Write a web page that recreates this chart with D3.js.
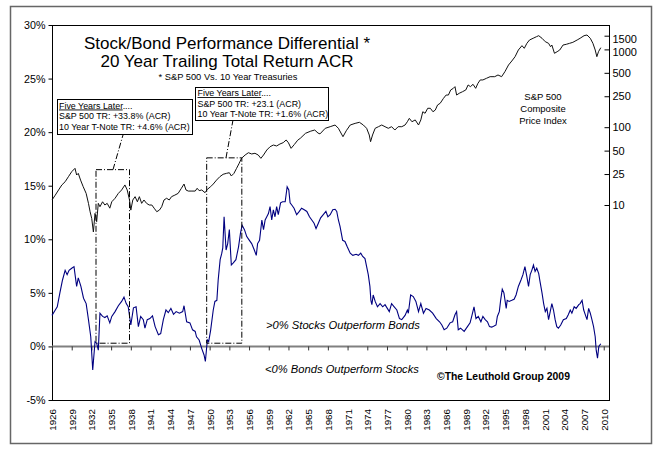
<!DOCTYPE html>
<html>
<head>
<meta charset="utf-8">
<script src="https://cdn.jsdelivr.net/npm/d3@7"></script>
<style>
  html, body { margin: 0; padding: 0; background: #fff; }
  svg { display: block; font-family: "Liberation Sans", Arial, sans-serif; }
</style>
</head>
<body>
<svg id="chart" width="660" height="454"></svg>
<script>
// ---------------- DATA ----------------
const pctTicks = [-5, 0, 5, 10, 15, 20, 25, 30];
const priceTicks = [10, 25, 50, 100, 250, 500, 1000, 1500];
const yearTicks = d3.range(1926, 2011, 3);

// Stock/Bond 20-yr trailing ACR differential (%)
const diffYears = [1926.0,1926.5,1926.8,1927.2,1927.6,1928.0,1928.3,1928.6,1929.0,1929.35,1929.75,1930.0,1930.4,1930.8,1931.2,1931.55,1931.9,1932.2,1932.55,1932.8,1933.05,1933.3,1933.7,1934.05,1934.4,1934.8,1935.1,1935.6,1936.1,1936.6,1936.96,1937.3,1937.6,1938.0,1938.4,1938.8,1939.15,1939.5,1939.9,1940.15,1940.5,1940.9,1941.3,1941.7,1942.2,1942.55,1942.95,1943.35,1943.7,1944.1,1944.5,1944.9,1945.4,1945.9,1946.1,1946.5,1947.0,1947.4,1947.8,1948.0,1948.4,1948.8,1949.15,1949.35,1949.65,1949.85,1950.15,1950.55,1950.8,1951.1,1951.3,1951.6,1951.85,1952.0,1952.2,1952.5,1952.75,1953.0,1953.3,1953.6,1954.0,1954.4,1954.7,1954.95,1955.3,1955.65,1956.05,1956.4,1956.8,1957.1,1957.3,1957.6,1957.95,1958.2,1958.45,1958.7,1958.95,1959.2,1959.45,1959.7,1959.95,1960.2,1960.45,1960.8,1961.1,1961.5,1961.8,1962.05,1962.25,1962.5,1962.85,1963.25,1963.65,1964.0,1964.4,1964.8,1965.2,1965.55,1965.9,1966.2,1966.55,1966.9,1967.3,1967.7,1968.0,1968.35,1968.75,1969.1,1969.35,1969.6,1969.85,1970.25,1970.6,1970.95,1971.4,1971.8,1972.3,1972.65,1973.0,1973.3,1973.65,1973.9,1974.15,1974.4,1974.55,1974.7,1974.9,1975.2,1975.55,1975.95,1976.35,1976.7,1977.05,1977.35,1977.7,1978.1,1978.5,1978.9,1979.25,1979.75,1980.1,1980.25,1980.6,1981.0,1981.4,1981.8,1982.15,1982.55,1982.95,1983.45,1983.95,1984.5,1985.0,1985.35,1985.7,1986.1,1986.6,1987.0,1987.35,1987.6,1987.85,1988.2,1988.75,1989.25,1989.65,1989.9,1990.25,1990.55,1990.9,1991.3,1991.6,1991.95,1992.3,1992.6,1992.95,1993.3,1993.6,1993.8,1994.1,1994.3,1994.55,1994.8,1995.15,1995.3,1995.6,1996.0,1996.35,1996.65,1997.0,1997.4,1997.7,1998.0,1998.3,1998.55,1998.8,1999.05,1999.3,1999.55,1999.8,2000.1,2000.3,2000.6,2000.85,2001.1,2001.35,2001.6,2001.85,2002.1,2002.35,2002.6,2002.85,2003.1,2003.45,2003.85,2004.3,2004.6,2004.9,2005.15,2005.5,2005.8,2006.2,2006.4,2006.7,2006.95,2007.2,2007.45,2007.7,2007.95,2008.2,2008.45,2008.7,2008.85,2009.05,2009.25,2009.55];
const diffValues = [2.9,3.4,3.7,5.0,6.2,7.1,6.7,7.1,7.3,7.45,5.6,6.4,5.6,4.5,4.0,2.5,0.9,-2.2,0.45,0.3,-0.35,3.1,2.8,2.7,2.85,2.2,2.8,3.25,3.8,4.2,4.6,4.0,3.7,2.0,3.6,3.7,1.85,2.8,2.5,1.7,2.5,2.6,2.85,1.85,1.1,1.2,2.5,3.4,3.15,3.55,3.0,3.25,3.1,3.25,3.8,2.3,2.2,1.55,1.4,0.9,0.6,-0.2,-0.8,-1.4,0.6,0.45,1.5,3.4,4.2,4.3,6.2,8.1,8.7,9.2,12.1,9.0,9.6,10.9,7.6,7.8,8.1,9.3,10.6,11.3,10.9,10.25,9.9,9.6,9.0,8.5,9.6,9.9,11.8,10.9,11.8,12.1,12.4,13.05,11.8,12.75,12.1,13.05,12.3,13.4,13.5,13.5,14.9,14.6,13.4,13.2,12.9,12.3,12.6,12.9,12.75,12.6,12.1,11.8,11.5,11.0,11.5,12.0,12.3,12.6,12.1,12.3,12.75,12.8,12.6,11.8,11.2,9.9,9.8,9.3,8.7,8.5,8.6,8.5,8.7,8.4,8.2,7.45,6.7,5.6,4.3,3.9,4.8,4.2,3.7,4.0,3.7,3.9,3.55,3.25,4.0,3.7,3.4,2.6,2.5,2.9,3.4,3.1,4.8,4.65,4.2,3.25,4.0,3.1,3.55,3.4,3.1,2.6,2.3,2.0,1.55,1.7,2.2,2.3,2.95,3.25,1.55,1.7,1.4,1.85,2.2,2.8,3.7,2.6,2.8,2.3,2.8,2.5,2.3,1.85,1.8,1.9,2.0,2.8,3.25,4.3,5.35,5.0,3.55,4.3,4.2,4.3,4.4,4.8,5.6,6.2,6.7,7.45,6.5,5.6,6.7,7.1,7.6,7.0,7.3,6.8,6.05,5.0,4.0,3.25,3.55,2.5,3.25,4.0,3.4,2.5,1.85,1.7,2.0,2.5,2.6,2.95,3.4,3.1,3.7,3.55,3.9,4.0,4.3,3.4,2.95,2.5,3.55,3.1,2.5,1.85,0.9,-0.35,-1.1,0.0,0.25];

// S&P 500 Composite Price Index
const spxYears = [1926.0,1926.5,1927.0,1927.5,1928.0,1928.5,1929.0,1929.5,1929.75,1930.0,1930.35,1930.75,1931.2,1931.55,1931.8,1932.05,1932.3,1932.55,1932.8,1933.05,1933.3,1933.7,1934.05,1934.4,1934.8,1935.1,1935.6,1936.1,1936.6,1937.1,1937.45,1937.8,1938.0,1938.3,1938.65,1939.0,1939.3,1939.65,1940.0,1940.4,1940.8,1941.2,1941.55,1941.95,1942.35,1942.7,1943.05,1943.45,1943.85,1944.2,1944.7,1945.2,1945.7,1946.1,1946.4,1946.75,1947.3,1947.8,1948.1,1948.4,1948.8,1949.3,1949.65,1950.15,1950.55,1951.05,1951.55,1952.05,1952.55,1953.0,1953.3,1953.7,1954.1,1954.5,1954.85,1955.4,1955.9,1956.4,1956.9,1957.4,1957.8,1958.2,1958.7,1959.2,1959.7,1960.2,1960.7,1961.2,1961.65,1962.0,1962.4,1962.9,1963.4,1963.8,1964.6,1965.4,1966.0,1966.5,1966.8,1967.6,1968.35,1969.1,1969.6,1970.3,1970.8,1971.4,1972.15,1972.8,1973.4,1973.9,1974.3,1974.5,1974.8,1975.2,1975.7,1976.2,1976.7,1977.2,1977.7,1978.2,1978.7,1979.25,1979.75,1980.1,1980.4,1980.8,1981.3,1981.8,1982.15,1982.45,1982.8,1983.2,1983.6,1984.0,1984.35,1984.7,1985.1,1985.6,1986.0,1986.35,1986.7,1987.1,1987.35,1987.6,1988.0,1988.5,1989.0,1989.35,1989.7,1990.1,1990.5,1990.85,1991.2,1991.6,1992.15,1992.7,1993.4,1993.9,1994.45,1994.95,1995.5,1996.0,1996.5,1997.0,1997.55,1997.9,1998.3,1998.7,1999.25,1999.75,2000.1,2000.6,2001.1,2001.6,2001.9,2002.1,2002.5,2002.9,2003.3,2003.8,2004.3,2004.8,2005.3,2005.95,2006.4,2007.0,2007.45,2007.95,2008.35,2008.7,2008.95,2009.2,2009.55];
const spxValues = [11.6,13.4,15.6,18.1,19.9,23.1,26.8,29.6,24.3,25.5,20.9,17.2,14.1,10.5,8.2,6.7,4.5,7.8,6.1,10.5,9.5,11.0,10.0,10.5,9.1,11.0,12.2,14.1,15.6,18.1,15.6,11.6,8.6,11.6,12.8,11.0,12.8,10.5,11.6,10.5,10.0,10.0,9.1,8.2,8.6,9.5,11.6,12.2,11.6,12.8,13.4,14.1,16.4,18.6,15.6,15.1,15.1,15.1,16.4,15.3,15.6,14.4,15.9,17.2,18.6,20.9,23.1,24.8,25.5,26,23.6,25.5,29.6,34.4,39.8,43.9,47,45.3,46.2,43.9,39.8,43.9,50.9,56.1,59,57.4,60.8,63.3,68.5,63,53.5,60,68,72,83.5,89,92,84,82,96.8,101.5,106.7,96.8,75.5,90,106.7,112,115.6,106.7,96.8,79.4,65.1,79.4,96.8,101.5,106.7,101.5,96.8,101.5,92,101.5,101.5,106.7,117.6,130,117.6,124,106.7,124,158,151,175,175,158,166,193,203,235,259,259,301,316,332,259,273,286,301,349,332,356,316,367,405,405,425,446,446,469,446,517,630,709,806,982,1117,1033,1197,1321,1390,1456,1500,1390,1256,1197,1083,1138,891,934,982,1138,1163,1197,1233,1321,1390,1500,1532,1390,1197,982,806,934,1052];

// ---------------- CHART ----------------
const svg = d3.select("#chart");
const L = 52, R = 609, T = 25, B = 400;

const x = d3.scaleLinear().domain([1926, 2010.8]).range([L, R]);
const y = d3.scaleLinear().domain([-5, 30]).range([B, T]);
const yR = d3.scaleLog().domain([1, 10000]).range([282.8, -28.4]);

// outer frame
svg.append("rect").attr("x", 10.5).attr("y", 6.5).attr("width", 641).attr("height", 437)
  .attr("fill", "none").attr("stroke", "#666").attr("stroke-width", 1.5);

// plot border
svg.append("rect").attr("x", L + 0.5).attr("y", T + 0.5).attr("width", R - L).attr("height", B - T)
  .attr("fill", "none").attr("stroke", "#000").attr("stroke-width", 1);

// left axis
const gL = svg.append("g").attr("transform", `translate(${L + 0.5},0)`)
  .call(d3.axisLeft(y).tickValues(pctTicks).tickFormat(d => d + "%").tickSize(4).tickPadding(3));
gL.select(".domain").remove();
gL.selectAll("text").attr("font-size", 10.7).attr("font-family", "Liberation Sans, Arial, sans-serif").attr("fill", "#000");
gL.selectAll("line").attr("stroke", "#000");

// right axis (log)
const gR = svg.append("g").attr("transform", `translate(${R + 0.5},0)`)
  .call(d3.axisRight(yR).tickValues(priceTicks).tickFormat(d3.format("d")).tickSizeInner(-5).tickSizeOuter(0).tickPadding(3));
gR.select(".domain").remove();
gR.selectAll("text").attr("font-size", 11).attr("font-family", "Liberation Sans, Arial, sans-serif").attr("fill", "#000")
  .attr("y", d => d === 1500 ? 3 : (d === 1000 ? 2.5 : 0));
gR.selectAll("line").attr("stroke", "#000");

// zero line with year ticks
const gZ = svg.append("g").attr("transform", `translate(0,${y(0)})`)
  .call(d3.axisBottom(x).tickValues(yearTicks).tickFormat("").tickSize(4).tickSizeOuter(0));
gZ.select(".domain").attr("stroke", "#808080").attr("stroke-width", 2).attr("d", `M${L},0H${R}`);
gZ.selectAll("line").attr("stroke", "#333");

// year labels at bottom
const gB = svg.append("g").attr("transform", `translate(0,${B})`)
  .call(d3.axisBottom(x).tickValues(yearTicks).tickFormat(d3.format("d")).tickSize(0));
gB.select(".domain").remove();
gB.selectAll("text")
  .attr("transform", "rotate(-90)").attr("x", -9).attr("y", 0).attr("dy", "0.35em")
  .style("text-anchor", "end").attr("font-size", 9.8)
  .attr("font-family", "Liberation Sans, Arial, sans-serif").attr("fill", "#000");

// S&P line
const spxData = spxYears.map((yr, i) => [yr, spxValues[i]]);
svg.append("path").datum(spxData)
  .attr("fill", "none").attr("stroke", "#111").attr("stroke-width", 1)
  .attr("d", d3.line().x(d => x(d[0])).y(d => yR(d[1])));

// Differential line
const diffData = diffYears.map((yr, i) => [yr, diffValues[i]]);
svg.append("path").datum(diffData)
  .attr("fill", "none").attr("stroke", "#000080").attr("stroke-width", 1.1)
  .attr("d", d3.line().x(d => x(d[0])).y(d => y(d[1])));

// dashed highlight boxes
const dash = "6,2,1,2";
const hl = [
  {x0: 1932.7, x1: 1937.8, top: 16.5},
  {x0: 1949.55, x1: 1954.9, top: 17.6}
];
hl.forEach(h => {
  svg.append("rect")
    .attr("x", x(h.x0)).attr("y", y(h.top))
    .attr("width", x(h.x1) - x(h.x0)).attr("height", y(0.3) - y(h.top))
    .attr("fill", "none").attr("stroke", "#000").attr("stroke-width", 1)
    .attr("stroke-dasharray", dash);
});
svg.append("line").attr("x1", 113).attr("y1", y(16.5)).attr("x2", 123).attr("y2", 135)
  .attr("stroke", "#000").attr("stroke-dasharray", dash);
svg.append("line").attr("x1", 226).attr("y1", y(17.6)).attr("x2", 233).attr("y2", 120)
  .attr("stroke", "#000").attr("stroke-dasharray", dash);

// annotation boxes
function note(bx, by, bw, bh, lines, tx, baselines) {
  svg.append("rect").attr("x", bx + 0.5).attr("y", by + 0.5).attr("width", bw).attr("height", bh)
    .attr("fill", "#fff").attr("stroke", "#000").attr("stroke-width", 1);
  lines.forEach((ln, i) => {
    const t = svg.append("text").attr("x", tx).attr("y", baselines[i])
      .attr("font-size", 8.9).attr("fill", "#000");
    if (i === 0) {
      t.append("tspan").attr("text-decoration", "underline").text("Five Years Later");
      t.append("tspan").text("....");
    } else t.text(ln);
  });
}
note(57, 99, 135, 35, ["", "S&P 500 TR: +33.8% (ACR)", "10 Year T-Note TR: +4.6% (ACR)"], 59, [108.5, 119, 129.5]);
note(195, 87, 133, 33, ["", "S&P 500 TR: +23.1 (ACR)", "10 Year T-Note TR: +1.6% (ACR)"], 197.5, [96, 106.5, 117]);

// titles
svg.append("text").attr("x", 227).attr("y", 49).attr("text-anchor", "middle")
  .attr("font-size", 17).attr("fill", "#000").text("Stock/Bond Performance Differential *");
svg.append("text").attr("x", 227).attr("y", 67).attr("text-anchor", "middle")
  .attr("font-size", 17).attr("fill", "#000").text("20 Year Trailing Total Return ACR");
svg.append("text").attr("x", 228).attr("y", 80).attr("text-anchor", "middle")
  .attr("font-size", 9.3).attr("fill", "#000").text("* S&P 500 Vs. 10 Year Treasuries");

// S&P label
["S&P 500", "Composite", "Price Index"].forEach((s, i) => {
  svg.append("text").attr("x", 543).attr("y", 100 + i * 12).attr("text-anchor", "middle")
    .attr("font-size", 9.5).attr("fill", "#000").text(s);
});

// region labels
svg.append("text").attr("x", 266).attr("y", 328.5).attr("font-size", 11.2).attr("font-style", "italic")
  .attr("fill", "#000").text(">0% Stocks Outperform Bonds");
svg.append("text").attr("x", 265).attr("y", 372.5).attr("font-size", 11.2).attr("font-style", "italic")
  .attr("fill", "#000").text("<0% Bonds Outperform Stocks");
svg.append("text").attr("x", 437).attr("y", 380).attr("font-size", 10.4).attr("font-weight", "bold")
  .attr("fill", "#000").text("©The Leuthold Group 2009");
</script>
</body>
</html>
